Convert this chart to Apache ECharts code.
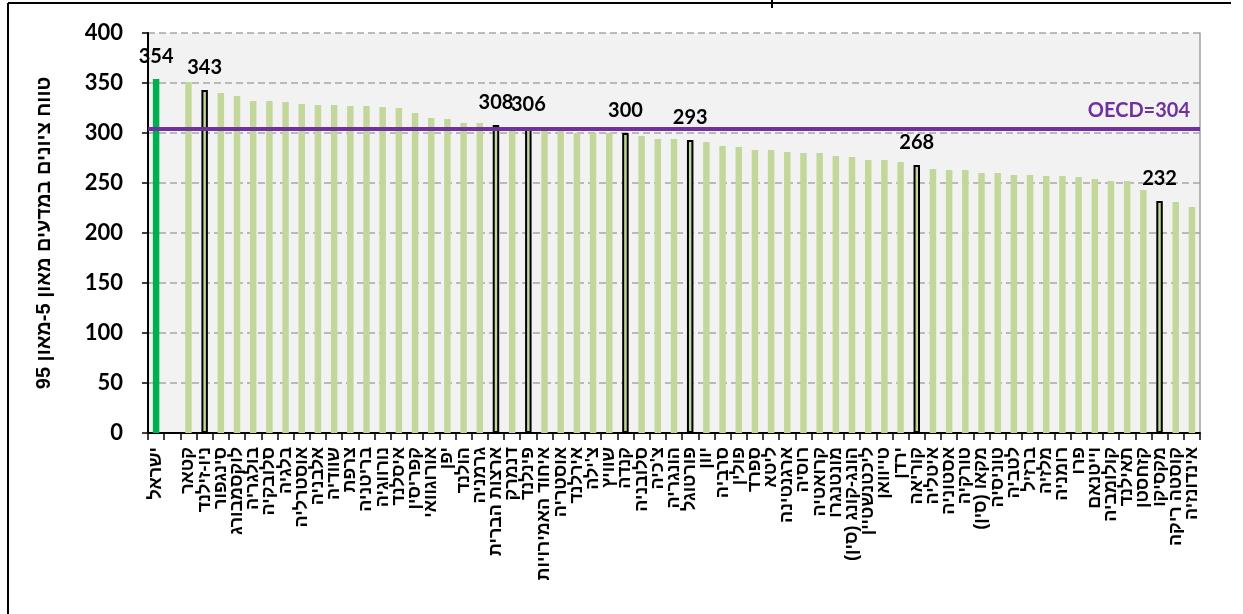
<!DOCTYPE html>
<html>
<head>
<meta charset="utf-8">
<script src="https://cdn.jsdelivr.net/npm/echarts@6/dist/echarts.min.js"></script>
<style>
html,body{margin:0;padding:0;background:#fff;}
#chart{width:1243px;height:614px;}
</style>
</head>
<body>
<div id="chart"></div>
<script>
// ---- data ----
const categories = [
  'ישראל', '', 'קטאר', 'ניו-זילנד', 'סינגפור', 'לוקסמבורג', 'בולגריה', 'סלובקיה', 'בלגיה', 'אוסטרליה',
  'אלבניה', 'שוודיה', 'צרפת', 'בריטניה', 'נורווגיה', 'איסלנד', 'קפריסין', 'אורוגוואי', 'יפן', 'הולנד',
  'גרמניה', 'ארצות הברית', 'דנמרק', 'פינלנד', 'איחוד האמירויות', 'אוסטריה', 'אירלנד', "צ'ילה", 'שוויץ', 'קנדה',
  'סלובניה', "צ'כיה", 'הונגריה', 'פורטוגל', 'יוון', 'סרביה', 'פולין', 'ספרד', 'ליטא', 'ארגנטינה',
  'רוסיה', 'קרואטיה', 'מונטנגרו', 'הונג-קונג (סין)', 'ליכטנשטיין', 'טייוואן', 'ירדן', 'קוריאה', 'איטליה', 'אסטוניה',
  'טורקיה', 'מקאו (סין)', 'טוניסיה', 'לטביה', 'ברזיל', 'מלזיה', 'רומניה', 'פרו', 'וייטנאם', 'קולומביה',
  'תאילנד', 'קזחסטן', 'מקסיקו', 'קוסטה ריקה', 'אינדונזיה'
];
const values = [
  354, null, 351, 343, 340, 337, 332, 332, 331, 329,
  328, 328, 327, 327, 326, 325, 320, 315, 314, 310,
  310, 308, 305, 306, 303, 302, 300, 300, 300, 300,
  297, 294, 294, 293, 291, 287, 286, 283, 283, 281,
  280, 280, 277, 276, 273, 273, 271, 268, 264, 263,
  263, 260, 260, 258, 258, 257, 257, 256, 254, 252,
  252, 243, 232, 231, 226
];
const highlighted = ['ניו-זילנד', 'ארצות הברית', 'פינלנד', 'קנדה', 'פורטוגל', 'קוריאה', 'מקסיקו'];
const focusCountry = 'ישראל';
const oecdAverage = 304;
const oecdLabel = 'OECD=304';
const yAxisTitle = 'טווח ציונים במדעים מאון 5-מאון 95';
const yMin = 0, yMax = 400, yStep = 50;

// ---- chart ----
const NUM_FONT = 'Lato, "Liberation Sans", sans-serif';
const HEB_FONT = '"Liberation Sans", Arial, "DejaVu Sans", sans-serif';
const chart = echarts.init(document.getElementById('chart'), null, {renderer: 'canvas'});

const barData = values.map((v, i) => {
  const name = categories[i];
  const isFocus = name === focusCountry;
  const isHi = highlighted.indexOf(name) >= 0;
  return {
    value: v,
    itemStyle: {
      color: isFocus ? '#00B050' : '#C4D79B',
      borderColor: isHi ? '#000000' : 'transparent',
      borderWidth: isHi ? 2 : 0
    },
    label: {show: isFocus || isHi}
  };
});

chart.setOption({
  animation: false,
  backgroundColor: '#ffffff',
  grid: {left: 148, right: 43, top: 33, bottom: 181, show: true, backgroundColor: '#F2F2F2', borderWidth: 0},
  xAxis: {
    type: 'category',
    data: categories,
    axisLine: {show: true, lineStyle: {color: '#000', width: 2}},
    axisTick: {show: true, length: 7, lineStyle: {color: '#000', width: 1.5}},
    axisLabel: {
      interval: 0, rotate: 90, margin: 14,
      fontSize: 18, fontWeight: 'bold', color: '#000', fontFamily: HEB_FONT,
      formatter: v => v + '\u200F'
    },
    splitLine: {show: false}
  },
  yAxis: [{
    type: 'value', min: yMin, max: yMax, interval: yStep,
    name: yAxisTitle, nameLocation: 'middle', nameGap: 94,
    nameTextStyle: {fontSize: 20, fontWeight: 'bold', color: '#000', fontFamily: HEB_FONT},
    axisLine: {show: true, lineStyle: {color: '#000', width: 2}},
    axisTick: {show: true, length: 6, lineStyle: {color: '#000', width: 1.5}},
    axisLabel: {margin: 25, fontSize: 22, fontWeight: 'bold', color: '#000', fontFamily: NUM_FONT},
    splitLine: {show: true, lineStyle: {color: '#A6A6A6', width: 1.5, type: [7, 4]}}
  }, {
    type: 'value', min: yMin, max: yMax, interval: yStep, position: 'right',
    axisLine: {show: true, lineStyle: {color: '#A0A0A0', width: 1.5}},
    axisTick: {show: false}, axisLabel: {show: false}, splitLine: {show: false}
  }],
  series: [{
    type: 'bar',
    data: barData,
    barWidth: '40%',
    label: {
      position: 'top', distance: 12,
      fontSize: 20, fontWeight: 'bold', color: '#000', fontFamily: NUM_FONT
    },
    markLine: {
      silent: true,
      symbol: ['none', 'none'],
      lineStyle: {color: '#7030A0', width: 4, type: 'solid'},
      label: {
        show: true, position: 'insideEndTop', distance: [10, 8],
        formatter: oecdLabel,
        color: '#7030A0', fontSize: 20, fontWeight: 'bold', fontFamily: NUM_FONT
      },
      data: [{yAxis: oecdAverage}]
    }
  }],
  graphic: [
    {type: 'line', shape: {x1: 8, y1: 3, x2: 8, y2: 614}, style: {stroke: '#000', lineWidth: 2}},
    {type: 'line', shape: {x1: 8, y1: 3, x2: 1231, y2: 3}, style: {stroke: '#000', lineWidth: 2}},
    {type: 'line', shape: {x1: 772, y1: 0, x2: 772, y2: 8}, style: {stroke: '#000', lineWidth: 2}}
  ]
});
</script>
</body>
</html>
